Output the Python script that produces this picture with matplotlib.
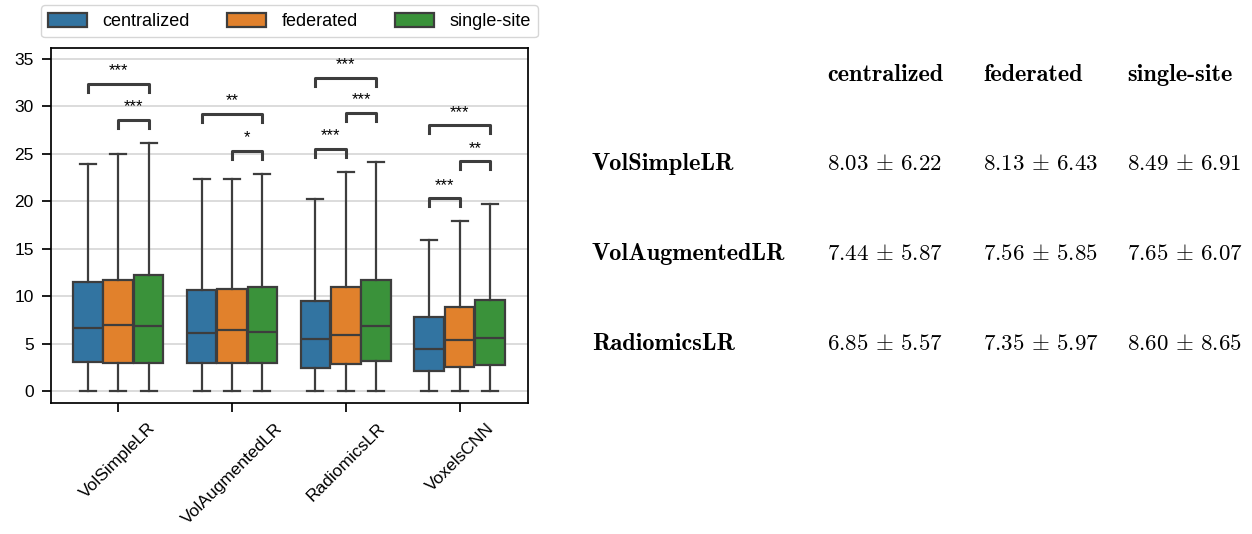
import matplotlib
matplotlib.use("Agg")
import os

import matplotlib.pyplot as plt
from matplotlib.font_manager import FontProperties
from matplotlib.patches import Patch

plt.rcParams["font.family"] = ["Liberation Sans", "DejaVu Sans"]
plt.rcParams["mathtext.fontset"] = "cm"

models = ["VolSimpleLR", "VolAugmentedLR", "RadiomicsLR", "VoxelsCNN"]
settings = ["centralized", "federated", "single-site"]
colors = ["#3274a1", "#e1812c", "#3a923a"]

# box stats per setting, one entry per model: (low whisker, q1, median, q3, high whisker)
box_stats = {
    "centralized": [(0, 3.1, 6.6, 11.45, 23.9), (0, 2.9, 6.1, 10.65, 22.3),
                    (0, 2.4, 5.5, 9.5, 20.2), (0, 2.1, 4.4, 7.75, 15.9)],
    "federated": [(0, 2.9, 7.0, 11.7, 25.0), (0, 3.0, 6.4, 10.8, 22.3),
                  (0, 2.85, 5.9, 10.95, 23.05), (0, 2.55, 5.4, 8.8, 17.9)],
    "single-site": [(0, 3.0, 6.8, 12.2, 26.1), (0, 2.9, 6.25, 10.95, 22.9),
                    (0, 3.2, 6.85, 11.7, 24.15), (0, 2.75, 5.55, 9.55, 19.75)],
}

# significance brackets: (model index, setting a, setting b, bracket height, label)
brackets = [
    (0, 0, 2, 32.4, "***"), (0, 1, 2, 28.6, "***"),
    (1, 0, 2, 29.2, "**"), (1, 1, 2, 25.3, "*"),
    (2, 0, 2, 33.0, "***"), (2, 1, 2, 29.3, "***"), (2, 0, 1, 25.5, "***"),
    (3, 0, 2, 28.0, "***"), (3, 1, 2, 24.2, "**"), (3, 0, 1, 20.3, "***"),
]

table_rows = ["VolSimpleLR", "VolAugmentedLR", "RadiomicsLR"]
table_values = [
    ["8.03", "6.22", "8.13", "6.43", "8.49", "6.91"],
    ["7.44", "5.87", "7.56", "5.85", "7.65", "6.07"],
    ["6.85", "5.57", "7.35", "5.97", "8.60", "8.65"],
]

LINE = "#3d3d3d"
W, H = 1252, 534

fig = plt.figure(figsize=(W / 100, H / 100), dpi=100)
ax = fig.add_axes([51 / W, 1 - 403 / H, (528 - 51) / W, (403 - 48) / H])

offsets = [-0.267, 0.0, 0.267]
for k, name in enumerate(settings):
    stats = [
        dict(whislo=s[0], q1=s[1], med=s[2], q3=s[3], whishi=s[4], fliers=[])
        for s in box_stats[name]
    ]
    pos = [i + offsets[k] for i in range(len(models))]
    ax.bxp(
        stats,
        positions=pos,
        widths=0.26,
        capwidths=0.14,
        patch_artist=True,
        showfliers=False,
        boxprops=dict(facecolor=colors[k], edgecolor=LINE, linewidth=1.6),
        medianprops=dict(color=LINE, linewidth=1.6),
        whiskerprops=dict(color=LINE, linewidth=1.6),
        capprops=dict(color=LINE, linewidth=1.6),
        manage_ticks=False,
        zorder=3,
    )

tip = 0.85
for m, a, b, y, label in brackets:
    x1, x2 = m + offsets[a], m + offsets[b]
    ax.plot([x1, x1, x2, x2], [y - tip, y, y, y - tip], color=LINE, lw=2.2, zorder=4)
    ax.text((x1 + x2) / 2, y + 0.6, label, ha="center", va="bottom", fontsize=12)

ax.set_xlim(-0.59, 3.6)
ax.set_ylim(-1.27, 36.16)
ax.set_yticks(range(0, 36, 5))
ax.set_xticks(range(len(models)))
ax.set_xticklabels(models, rotation=45)
ax.tick_params(labelsize=12.5, length=6.5, width=1.25, pad=6, colors="black")
ax.grid(axis="y", color="#d6d6d6", lw=1.2)
ax.set_axisbelow(True)
for sp in ax.spines.values():
    sp.set_linewidth(1.25)

handles = [Patch(facecolor=c, edgecolor=LINE, lw=1.6) for c in colors]
ax.legend(handles, settings, loc="lower center", bbox_to_anchor=(0.5, 1.02),
          ncol=3, fontsize=13, handlelength=2.15, handleheight=0.85,
          handletextpad=0.83, columnspacing=2.1, borderaxespad=0.2)

bold_cm = FontProperties(
    fname=os.path.join(matplotlib.get_data_path(), "fonts", "ttf", "cmb10.ttf"),
    size=17.5,
)
col_x = [827, 983, 1127]
row_y = [164, 254, 344]
for j, name in enumerate(settings):
    fig.text(col_x[j] / W, 1 - 75 / H, name, fontproperties=bold_cm,
             ha="left", va="center")
for i, row in enumerate(table_rows):
    fig.text(592 / W, 1 - row_y[i] / H, row, fontproperties=bold_cm,
             ha="left", va="center")
    vals = table_values[i]
    for j in range(3):
        txt = r"$%s\,\pm\,%s$" % (vals[2 * j], vals[2 * j + 1])
        fig.text(col_x[j] / W, 1 - row_y[i] / H, txt,
                 fontsize=16.5, ha="left", va="center")

fig.savefig("out.png", dpi=100)
